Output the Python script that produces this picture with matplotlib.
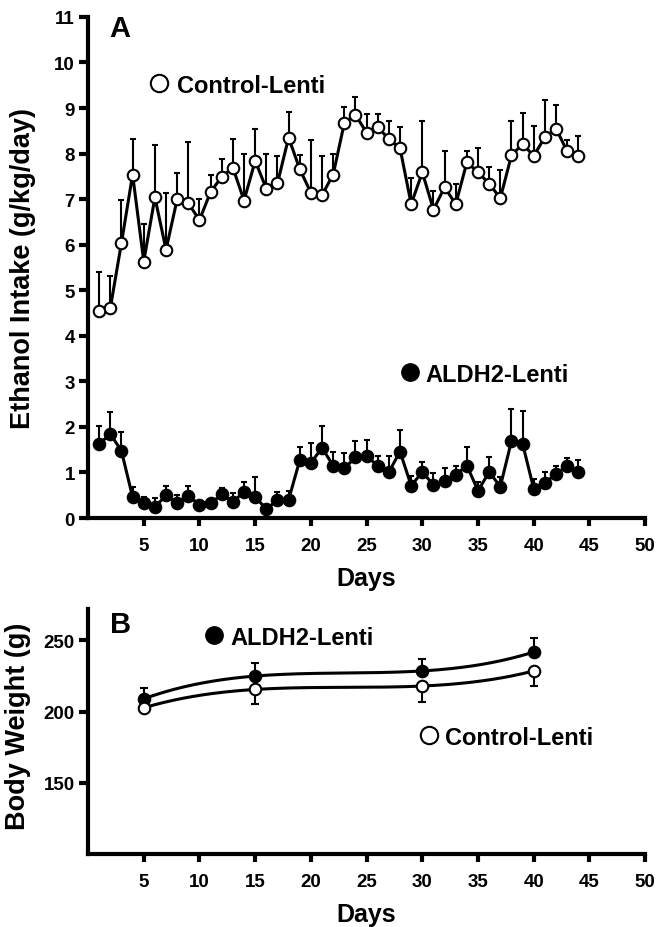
import numpy as np
import matplotlib
matplotlib.use('agg')
import matplotlib.pyplot as plt

plt.rcParams['font.family'] = ['Liberation Sans', 'DejaVu Sans']
plt.rcParams['font.weight'] = 'bold'

# panel A - daily ethanol intake (g/kg/day), mean and upper SEM
days = np.arange(1, 45)
ctrl_mean = [4.55, 4.61, 6.04, 7.54, 5.63, 7.04, 5.89, 7.00, 6.91, 6.54,
             7.16, 7.49, 7.69, 6.97, 7.84, 7.23, 7.35, 8.35, 7.66, 7.14,
             7.09, 7.54, 8.67, 8.85, 8.46, 8.59, 8.31, 8.12, 6.89, 7.59,
             6.77, 7.26, 6.89, 7.81, 7.59, 7.34, 7.02, 7.96, 8.21, 7.95,
             8.36, 8.55, 8.05, 7.94]
ctrl_top = [5.39, 5.32, 6.99, 8.31, 6.45, 8.19, 7.13, 7.57, 8.25, 7.00,
            7.53, 7.88, 8.31, 7.99, 8.55, 8.00, 7.94, 8.92, 7.97, 8.29,
            7.94, 8.00, 9.03, 9.25, 8.86, 8.86, 8.71, 8.58, 7.46, 8.71,
            7.17, 8.05, 7.34, 8.05, 8.12, 7.71, 7.64, 8.71, 8.90, 8.61,
            9.18, 9.07, 8.29, 8.39]
aldh_mean = [1.62, 1.85, 1.47, 0.46, 0.32, 0.24, 0.50, 0.32, 0.49, 0.29,
             0.32, 0.52, 0.36, 0.57, 0.46, 0.20, 0.39, 0.40, 1.27, 1.21,
             1.54, 1.15, 1.09, 1.33, 1.37, 1.14, 1.01, 1.46, 0.71, 1.01,
             0.73, 0.81, 0.95, 1.15, 0.60, 1.01, 0.69, 1.69, 1.63, 0.64,
             0.77, 0.97, 1.14, 1.01]
aldh_top = [2.03, 2.33, 1.89, 0.68, 0.47, 0.43, 0.70, 0.51, 0.70, 0.33,
            0.36, 0.65, 0.54, 0.79, 0.90, 0.22, 0.58, 0.60, 1.56, 1.65,
            2.02, 1.46, 1.42, 1.69, 1.72, 1.37, 1.37, 1.94, 0.93, 1.23,
            0.99, 1.09, 1.15, 1.56, 0.79, 1.33, 0.90, 2.39, 2.36, 0.86,
            1.01, 1.15, 1.32, 1.28]

# panel B - body weight (g)
bw_days = [5, 15, 30, 40]
bw_aldh = [208.9, 224.9, 228.5, 241.8]
bw_aldh_top = [216.5, 234.3, 236.9, 251.9]
bw_ctrl = [202.6, 215.5, 217.9, 228.5]
bw_ctrl_bot = [200.0, 205.2, 207.0, 217.9]

fig = plt.figure(figsize=(6.57, 9.28), dpi=100)
axA = fig.add_axes([0.134, 0.4407, 0.848, 0.540])
axB = fig.add_axes([0.134, 0.0787, 0.848, 0.264])

ms = 8.3
mew = 1.5
leg_ms = 12.5
leg_fs = 17


def style_axis(ax):
    for s in ['top', 'right']:
        ax.spines[s].set_visible(False)
    for s in ['left', 'bottom']:
        ax.spines[s].set_linewidth(3)
    ax.tick_params(axis='x', width=3, length=6, labelsize=13.5, pad=8)
    ax.tick_params(axis='y', width=3, length=6.5, labelsize=13.5, pad=3)
    for lab in ax.get_xticklabels() + ax.get_yticklabels():
        lab.set_fontweight('bold')
    ax.set_xlim(0, 50)
    ax.set_xticks(np.arange(5, 51, 5))
    ax.set_xlabel('Days', fontsize=18, fontweight='bold', labelpad=8)


# panel A
d = np.array(days)
cm = np.array(ctrl_mean)
am = np.array(aldh_mean)
axA.errorbar(d, cm, yerr=[np.zeros_like(cm), np.array(ctrl_top) - cm],
             fmt='none', ecolor='black', elinewidth=1.5, capsize=2.5,
             capthick=1.5, zorder=1)
axA.errorbar(d, am, yerr=[np.zeros_like(am), np.array(aldh_top) - am],
             fmt='none', ecolor='black', elinewidth=1.5, capsize=2.5,
             capthick=1.5, zorder=1)
axA.plot(d, cm, '-o', color='black', lw=2.2, ms=ms, mfc='white',
         mec='black', mew=mew, zorder=3)
axA.plot(d, am, '-o', color='black', lw=2.2, ms=ms, mfc='black',
         mec='black', mew=mew, zorder=3)
axA.set_ylim(0, 11)
axA.set_yticks(np.arange(0, 12, 1))
style_axis(axA)
axA.set_ylabel('Ethanol Intake (g/kg/day)', fontsize=19.5,
               fontweight='bold')
axA.yaxis.set_label_coords(-0.093, 0.5)
axA.text(2.85, 10.76, 'A', fontsize=21, fontweight='bold', ha='center',
         va='center')
axA.plot([6.4], [9.56], 'o', ms=leg_ms, mfc='white', mec='black', mew=mew)
axA.text(7.95, 9.56, 'Control-Lenti', fontsize=leg_fs, fontweight='bold',
         va='center_baseline')
axA.plot([28.87], [3.2], 'o', ms=leg_ms, mfc='black', mec='black')
axA.text(30.26, 3.2, 'ALDH2-Lenti', fontsize=leg_fs, fontweight='bold',
         va='center_baseline')

# panel B - smooth cubic through the means
bd = np.array(bw_days)
ba = np.array(bw_aldh)
bc = np.array(bw_ctrl)
xs = np.linspace(5, 40, 200)
axB.plot(xs, np.polyval(np.polyfit(bd, ba, 3), xs), color='black', lw=2.2,
         zorder=2)
axB.plot(xs, np.polyval(np.polyfit(bd, bc, 3), xs), color='black', lw=2.2,
         zorder=2)
axB.errorbar(bd, ba, yerr=[np.zeros_like(ba), np.array(bw_aldh_top) - ba],
             fmt='none', ecolor='black', elinewidth=1.5, capsize=3,
             capthick=1.5, zorder=1)
axB.errorbar(bd, bc, yerr=[bc - np.array(bw_ctrl_bot), np.zeros_like(bc)],
             fmt='none', ecolor='black', elinewidth=1.5, capsize=3,
             capthick=1.5, zorder=1)
axB.plot(bd, ba, 'o', ms=ms, mfc='black', mec='black', mew=mew, zorder=3)
axB.plot(bd, bc, 'o', ms=ms, mfc='white', mec='black', mew=mew, zorder=3)
axB.set_ylim(100, 272)
axB.set_yticks([150, 200, 250])
style_axis(axB)
axB.set_ylabel('Body Weight (g)', fontsize=19.5, fontweight='bold')
axB.yaxis.set_label_coords(-0.102, 0.527)
axB.text(2.9, 261.8, 'B', fontsize=21, fontweight='bold', ha='center',
         va='center')
axB.plot([11.3], [253.5], 'o', ms=leg_ms, mfc='black', mec='black')
axB.text(12.75, 253.5, 'ALDH2-Lenti', fontsize=leg_fs, fontweight='bold',
         va='center_baseline')
axB.plot([30.56], [183.8], 'o', ms=leg_ms, mfc='white', mec='black',
         mew=mew)
axB.text(32.06, 183.8, 'Control-Lenti', fontsize=leg_fs, fontweight='bold',
         va='center_baseline')

fig.savefig('out.png', dpi=100)
